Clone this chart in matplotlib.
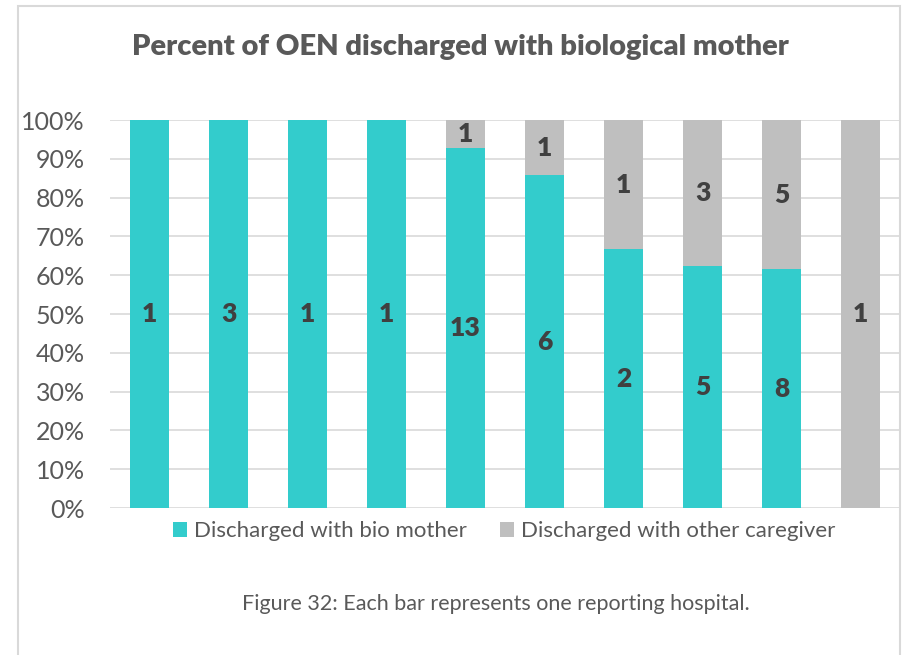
import matplotlib
matplotlib.use("Agg")
import matplotlib.pyplot as plt
from matplotlib.patches import Rectangle, Patch
import numpy as np

hospitals = [f"H{i}" for i in range(1, 11)]
bio_counts = [1, 3, 1, 1, 13, 6, 2, 5, 8, 0]
other_counts = [0, 0, 0, 0, 1, 1, 1, 3, 5, 1]
yticks = [0, 10, 20, 30, 40, 50, 60, 70, 80, 90, 100]

TEAL = "#33CCCC"
GRAY = "#BFBFBF"
TXT = "#595959"
LBL = "#404040"
FONT = "Lato"

W, H = 905, 655
fig = plt.figure(figsize=(W / 100, H / 100), dpi=100)
fig.patch.set_facecolor("white")

# outer frame
fig.add_artist(Rectangle((18 / W, -0.05), (900 - 18) / W, (H - 6) / H + 0.05,
                         transform=fig.transFigure, fill=False,
                         edgecolor="#D9D9D9", linewidth=1.5))

ax = fig.add_axes([110 / W, (H - 508) / H, 790 / W, 388 / H])

bio = np.array(bio_counts, dtype=float)
oth = np.array(other_counts, dtype=float)
tot = bio + oth
bio_pct = bio / tot * 100
oth_pct = oth / tot * 100
x = np.arange(len(hospitals))

ax.bar(x, bio_pct, width=0.5, color=TEAL, zorder=3)
ax.bar(x, oth_pct, width=0.5, bottom=bio_pct, color=GRAY, zorder=3)

for i in range(len(x)):
    if bio[i] > 0:
        ax.text(x[i], bio_pct[i] / 2, f"{int(bio[i])}", ha="center", va="center",
                fontsize=19, fontweight="heavy", color=LBL, family=FONT, zorder=4)
    if oth[i] > 0:
        ax.text(x[i], bio_pct[i] + oth_pct[i] / 2, f"{int(oth[i])}", ha="center",
                va="center", fontsize=19, fontweight="heavy", color=LBL,
                family=FONT, zorder=4)

ax.set_xlim(-0.5, len(x) - 0.5)
ax.set_ylim(0, 100)
ax.set_yticks(yticks)
ax.set_yticklabels([f"{v}%" for v in yticks], family=FONT, fontsize=18, color=TXT)
ax.set_xticks([])
ax.tick_params(axis="y", length=0, pad=18)
for s in ax.spines.values():
    s.set_visible(False)
ax.grid(axis="y", color="#D9D9D9", linewidth=1.2, zorder=0)
ax.set_axisbelow(True)

fig.text(460 / W, 1 - 47 / H, "Percent of OEN discharged with biological mother",
         ha="center", va="center", fontsize=21, fontweight="heavy", color=TXT,
         family=FONT)

handles = [Patch(facecolor=TEAL, label="Discharged with bio mother"),
           Patch(facecolor=GRAY, label="Discharged with other caregiver")]
leg = fig.legend(handles=handles, loc="center", bbox_to_anchor=(504 / W, 1 - 531 / H),
                 ncol=2, frameon=False, prop={"family": FONT, "size": 16},
                 handlelength=0.64, handleheight=0.64, handletextpad=0.3,
                 columnspacing=1.5)
for t in leg.get_texts():
    t.set_color(TXT)

fig.text(496 / W, 1 - 604 / H, "Figure 32: Each bar represents one reporting hospital.",
         ha="center", va="center", fontsize=15.5, color=TXT, family=FONT)

fig.savefig("out.png", dpi=100, facecolor="white")
